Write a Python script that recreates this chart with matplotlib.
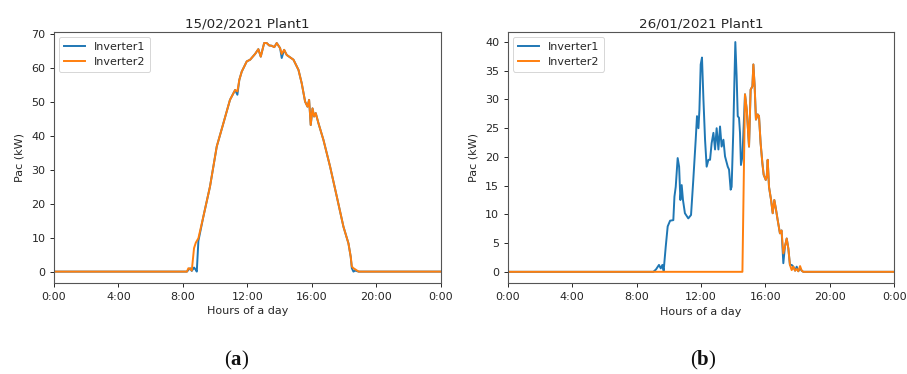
import matplotlib
matplotlib.use("Agg")
import matplotlib.pyplot as plt
from matplotlib.ticker import FixedLocator

# ---------------- data ----------------
left_title = "15/02/2021 Plant1"
right_title = "26/01/2021 Plant1"
series_names = ["Inverter1", "Inverter2"]
tick_hours = [0, 4, 8, 12, 16, 20, 24]
tick_labels = ["0:00", "4:00", "8:00", "12:00", "16:00", "20:00", "0:00"]

left_hours = [0, 8.0, 8.25, 8.34, 8.45, 8.55, 8.69, 8.8, 8.86, 8.96, 9.27, 9.68,
              10.1, 10.51, 10.92, 11.24, 11.38, 11.5, 11.65, 11.96, 12.17, 12.48,
              12.68, 12.83, 13.04, 13.2, 13.35, 13.51, 13.67, 13.82, 14.03, 14.13,
              14.28, 14.44, 14.65, 14.86, 15.17, 15.37, 15.58, 15.73, 15.83, 15.93,
              16.04, 16.14, 16.24, 16.41, 16.72, 17.13, 17.55, 17.96, 18.27, 18.41,
              18.48, 18.58, 18.68, 18.9, 24]
left_inv1 = [0, 0, 0, 0.5, 1.0, 0.2, 1.2, 0.5, 0.0, 9.0, 16.2, 25.0,
             36.8, 43.6, 50.5, 53.4, 52.0, 56.4, 58.8, 61.8, 62.3, 64.0,
             65.4, 63.2, 67.2, 67.2, 66.5, 66.4, 66.0, 67.2, 65.7, 62.8,
             65.2, 63.7, 63.0, 62.3, 59.3, 55.4, 50.0, 48.5, 50.5, 43.1,
             48.0, 45.6, 46.6, 43.6, 38.7, 30.9, 22.0, 13.2, 8.3, 4.4,
             1.0, 0.0, 0.3, 0.0, 0]
left_inv2 = [0, 0, 0, 1.0, 0.8, 0.3, 6.9, 8.5, 9.0, 9.8, 16.2, 25.0,
             36.8, 43.6, 50.5, 53.4, 53.0, 56.4, 58.8, 61.8, 62.3, 64.0,
             65.4, 63.2, 67.2, 67.2, 66.5, 66.4, 66.0, 67.2, 65.7, 64.0,
             65.2, 63.7, 63.0, 62.3, 59.3, 55.4, 50.0, 48.5, 50.5, 43.1,
             48.0, 45.6, 46.6, 43.6, 38.7, 30.9, 22.0, 13.2, 8.3, 4.4,
             1.5, 1.0, 0.7, 0.0, 0]

right_hours = [0, 9.04, 9.2, 9.39, 9.5, 9.6, 9.68, 9.81, 9.93, 10.08, 10.28, 10.35,
               10.43, 10.55, 10.64, 10.72, 10.80, 10.88, 11.0, 11.21, 11.38, 11.52,
               11.67, 11.75, 11.84, 11.9, 11.98, 12.06, 12.15, 12.25, 12.35, 12.46,
               12.56, 12.66, 12.77, 12.87, 12.97, 13.08, 13.18, 13.28, 13.39, 13.49,
               13.66, 13.74, 13.84, 13.9, 14.0, 14.07, 14.13, 14.21, 14.28, 14.36,
               14.42, 14.48, 14.57,
               14.73, 14.84, 14.98, 15.08, 15.19, 15.25, 15.33, 15.41, 15.52, 15.6,
               15.7, 15.81, 15.89, 16.02, 16.08, 16.14, 16.22, 16.35, 16.45, 16.55,
               16.64, 16.76, 16.9, 17.0, 17.11, 17.21, 17.32, 17.42, 17.52, 17.63,
               17.73, 17.84, 17.94, 18.04, 18.15, 18.25, 18.35, 24]
right_inv1 = [0, 0, 0.4, 1.2, 0.6, 1.2, 0.2, 4.4, 7.9, 8.9, 9.0, 13.1,
              14.8, 19.8, 18.3, 12.5, 15.1, 12.5, 10.2, 9.3, 9.9, 16.0,
              23.0, 27.1, 25.0, 28.2, 36.1, 37.3, 30.0, 23.0, 18.3, 19.5,
              19.5, 22.4, 24.2, 21.3, 25.0, 21.3, 25.3, 21.8, 23.0, 20.1,
              18.3, 17.8, 14.3, 14.8, 24.2, 32.9, 40.0, 34.1, 27.1, 26.8,
              24.2, 18.6, 20.1,
              30.9, 28.2, 21.8, 31.7, 32.3, 36.1, 32.3, 26.5, 27.4, 27.1,
              22.4, 18.9, 16.9, 16.0, 16.6, 19.5, 14.8, 12.5, 10.2, 12.5,
              11.1, 9.0, 6.7, 7.2, 1.5, 4.4, 5.8, 4.1, 1.2, 1.2,
              0.9, 0.2, 0.9, 0.1, 0.6, 0.2, 0, 0]
right_inv2 = [0, 0, 0, 0, 0, 0, 0, 0, 0, 0, 0, 0,
              0, 0, 0, 0, 0, 0, 0, 0, 0, 0,
              0, 0, 0, 0, 0, 0, 0, 0, 0, 0,
              0, 0, 0, 0, 0, 0, 0, 0, 0, 0,
              0, 0, 0, 0, 0, 0, 0, 0, 0, 0,
              0, 0, 0,
              30.9, 28.2, 21.8, 31.7, 32.3, 36.1, 32.3, 26.5, 27.4, 27.1,
              22.4, 18.9, 16.9, 16.0, 16.6, 19.5, 14.8, 12.5, 10.2, 12.5,
              11.1, 9.0, 6.7, 7.2, 3.2, 4.4, 5.8, 4.1, 1.2, 0.3,
              0.9, 0.2, 0.5, 0.1, 1.0, 0.2, 0, 0]
right_yticks = [0, 5, 10, 15, 20, 25, 30, 35, 40]
left_yticks = [0, 10, 20, 30, 40, 50, 60, 70]

# ---------------- style ----------------
BLUE = "#1f77b4"
ORANGE = "#ff7f0e"
TXT = "#262626"
SPINE = "#555555"
TICK_FS = 8.0
LABEL_FS = 8.0
TITLE_FS = 9.7
LW = 1.4

plt.rcParams["font.family"] = ["DejaVu Sans"]

fig = plt.figure(figsize=(9.07, 3.74), dpi=100)
ax1 = fig.add_axes([0.0595, 0.2433, 0.4265, 0.6707])
ax2 = fig.add_axes([0.5598, 0.2425, 0.4262, 0.6727])


def style(ax, title, yticks):
    ax.set_xlim(0, 24)
    ax.xaxis.set_major_locator(FixedLocator(tick_hours))
    ax.set_xticklabels(tick_labels)
    ax.set_yticks(yticks)
    ax.set_title(title, fontsize=TITLE_FS, color=TXT, pad=3.0)
    ax.set_xlabel("Hours of a day", fontsize=LABEL_FS, color=TXT, labelpad=3.5)
    ax.set_ylabel("Pac (kW)", fontsize=LABEL_FS, color=TXT, labelpad=5)
    ax.tick_params(labelsize=TICK_FS, colors=TXT, length=2.7, width=0.7, pad=3.5)
    for s in ax.spines.values():
        s.set_color(SPINE)
        s.set_linewidth(0.8)
    leg = ax.legend(loc="upper left", fontsize=TICK_FS, frameon=True,
                    borderpad=0.45, handlelength=1.9, labelspacing=0.45,
                    borderaxespad=0.45)
    leg.get_frame().set_edgecolor("#cccccc")
    leg.get_frame().set_linewidth(0.7)
    for t in leg.get_texts():
        t.set_color(TXT)


ax1.plot(left_hours, left_inv1, color=BLUE, lw=LW, label=series_names[0])
ax1.plot(left_hours, left_inv2, color=ORANGE, lw=LW, label=series_names[1])
style(ax1, left_title, left_yticks)
ax1.set_ylim(-3.35, 70.4)

ax2.plot(right_hours, right_inv1, color=BLUE, lw=LW, label=series_names[0])
ax2.plot(right_hours, right_inv2, color=ORANGE, lw=LW, label=series_names[1])
style(ax2, right_title, right_yticks)
ax2.set_ylim(-2.0, 41.8)

plt.rcParams["mathtext.fontset"] = "custom"
plt.rcParams["mathtext.rm"] = "Liberation Serif"
plt.rcParams["mathtext.bf"] = "Liberation Serif:bold"
fig.text(0.261, 0.035, r"($\mathbf{a}$)", ha="center", va="center",
         fontsize=15, family="Liberation Serif", color="#111111")
fig.text(0.775, 0.035, r"($\mathbf{b}$)", ha="center", va="center",
         fontsize=15, family="Liberation Serif", color="#111111")

fig.savefig("out.png", dpi=100)
